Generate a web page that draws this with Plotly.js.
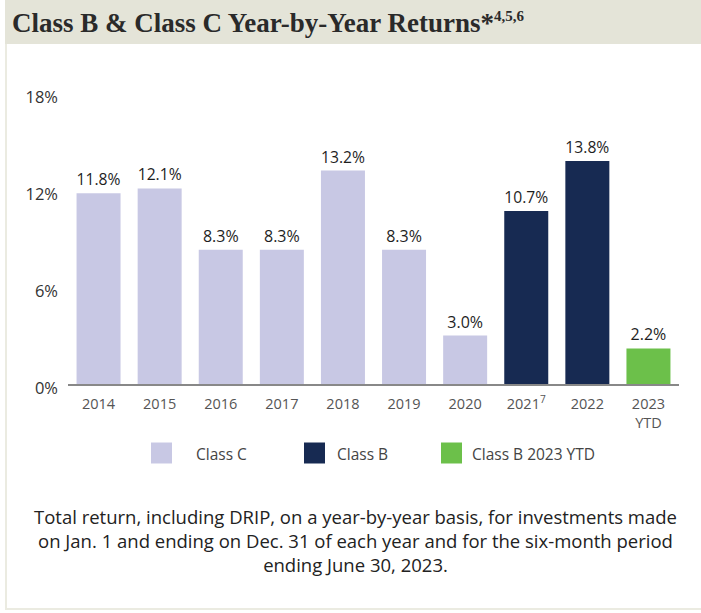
<!DOCTYPE html>
<html>
<head>
<meta charset="utf-8">
<script src="https://cdn.plot.ly/plotly-3.0.1.min.js"></script>
<style>
  html, body { margin: 0; padding: 0; background: #ffffff; }
  #wrap { position: relative; width: 701px; height: 613px; overflow: hidden; }
  #header { position: absolute; left: 5px; top: 0; width: 696px; height: 44px; background: #e4e4d8; }
  #lborder { position: absolute; left: 5px; top: 44px; width: 2px; height: 566px; background: #ebebe1; }
  #bborder { position: absolute; left: 5px; top: 608px; width: 696px; height: 2px; background: #ebebe1; }
  #chart { position: absolute; left: 0; top: 0; width: 701px; height: 613px; }
</style>
</head>
<body>
<div id="wrap">
  <div id="header"></div>
  <div id="lborder"></div>
  <div id="bborder"></div>
  <div id="chart"></div>
</div>
<script>
// ---- data ----
var categories = ["2014", "2015", "2016", "2017", "2018", "2019", "2020", "2021<sup>7</sup>", "2022", "2023<br>YTD"];
var returnsPct = [11.8, 12.1, 8.3, 8.3, 13.2, 8.3, 3.0, 10.7, 13.8, 2.2];
var shareClass = ["Class C", "Class C", "Class C", "Class C", "Class C", "Class C", "Class C", "Class B", "Class B", "Class B 2023 YTD"];
var seriesNames = ["Class C", "Class B", "Class B 2023 YTD"];
var seriesColors = ["#c8c8e4", "#172a52", "#6cc04a"];
var yTickVals = [0, 6, 12, 18];
var yTickText = ["0%", "6%", "12%", "18%"];
var titleText = "Class B &amp; Class C Year-by-Year Returns<b>*</b><sup><span style=\"font-size:15px\">4,5,6</span></sup>";
var footnoteText = "Total return, including DRIP, on a year-by-year basis, for investments made<br>on Jan. 1 and ending on Dec. 31 of each year and for the six-month period<br>ending June 30, 2023.";

var colorOf = {};
seriesNames.forEach(function (n, i) { colorOf[n] = seriesColors[i]; });

var W = 701, H = 613;
var mL = 68, mR = 22, mT = 93, mB = 229;
var plotW = W - mL - mR, plotH = H - mT - mB;
var FONT = "Open Sans, Noto Sans, sans-serif";

var trace = {
  type: "bar",
  x: categories,
  y: returnsPct,
  marker: { color: shareClass.map(function (c) { return colorOf[c]; }) },
  text: returnsPct.map(function (v) { return v.toFixed(1) + "%"; }),
  textposition: "outside",
  textfont: { family: FONT, size: 16, color: "#1e1e1e" },
  cliponaxis: false,
  showlegend: false,
  hoverinfo: "x+y"
};

// legend drawn as swatches + labels (pixel -> paper conversion)
var legendSwatchX = [151, 304, 441];
var legendTextX = [194, 335, 470];
var legendY = 453;
function px2x(px) { return (px - mL) / plotW; }
function py2y(py) { return (H - mB - py) / plotH; }

var shapes = [];
var annotations = [];
seriesNames.forEach(function (n, i) {
  shapes.push({
    type: "rect", xref: "paper", yref: "paper",
    x0: px2x(legendSwatchX[i]), x1: px2x(legendSwatchX[i] + 21),
    y0: py2y(legendY + 10.5), y1: py2y(legendY - 10.5),
    fillcolor: seriesColors[i], line: { width: 0 }
  });
  annotations.push({
    xref: "paper", yref: "paper", x: px2x(legendTextX[i]), y: py2y(legendY + 1),
    xanchor: "left", yanchor: "middle", showarrow: false, text: n,
    font: { family: FONT, size: 15.5, color: "#444444" }
  });
});
annotations.push({
  xref: "paper", yref: "paper", x: px2x(355), y: py2y(540),
  xanchor: "center", yanchor: "middle", showarrow: false, align: "center",
  text: footnoteText,
  font: { family: FONT, size: 18.5, color: "#222222" }
});

var layout = {
  width: W, height: H,
  margin: { l: mL, r: mR, t: mT, b: mB, pad: 0 },
  paper_bgcolor: "rgba(0,0,0,0)",
  plot_bgcolor: "rgba(0,0,0,0)",
  title: {
    text: titleText,
    xref: "container", yref: "container",
    x: 12 / W, xanchor: "left",
    y: 1 - 23 / H, yanchor: "middle",
    font: { family: "Liberation Serif, DejaVu Serif, serif", size: 27, color: "#2a2a2a", weight: "bold" }
  },
  bargap: 0.28,
  xaxis: {
    type: "category",
    showline: true, linecolor: "#888888", linewidth: 1.5,
    ticks: "", showgrid: false, zeroline: false,
    tickfont: { family: FONT, size: 14.5, color: "#555555" },
    ticklabelstandoff: 6
  },
  yaxis: {
    range: [0, 18],
    tickvals: yTickVals, ticktext: yTickText,
    showline: false, showgrid: false, zeroline: false, ticks: "",
    tickfont: { family: FONT, size: 16.5, color: "#333333" },
    ticklabelstandoff: 9,
    ticklabelshift: 4
  },
  shapes: shapes,
  annotations: annotations,
  showlegend: false
};

Plotly.newPlot("chart", [trace], layout, { displayModeBar: false, staticPlot: true });
</script>
</body>
</html>
